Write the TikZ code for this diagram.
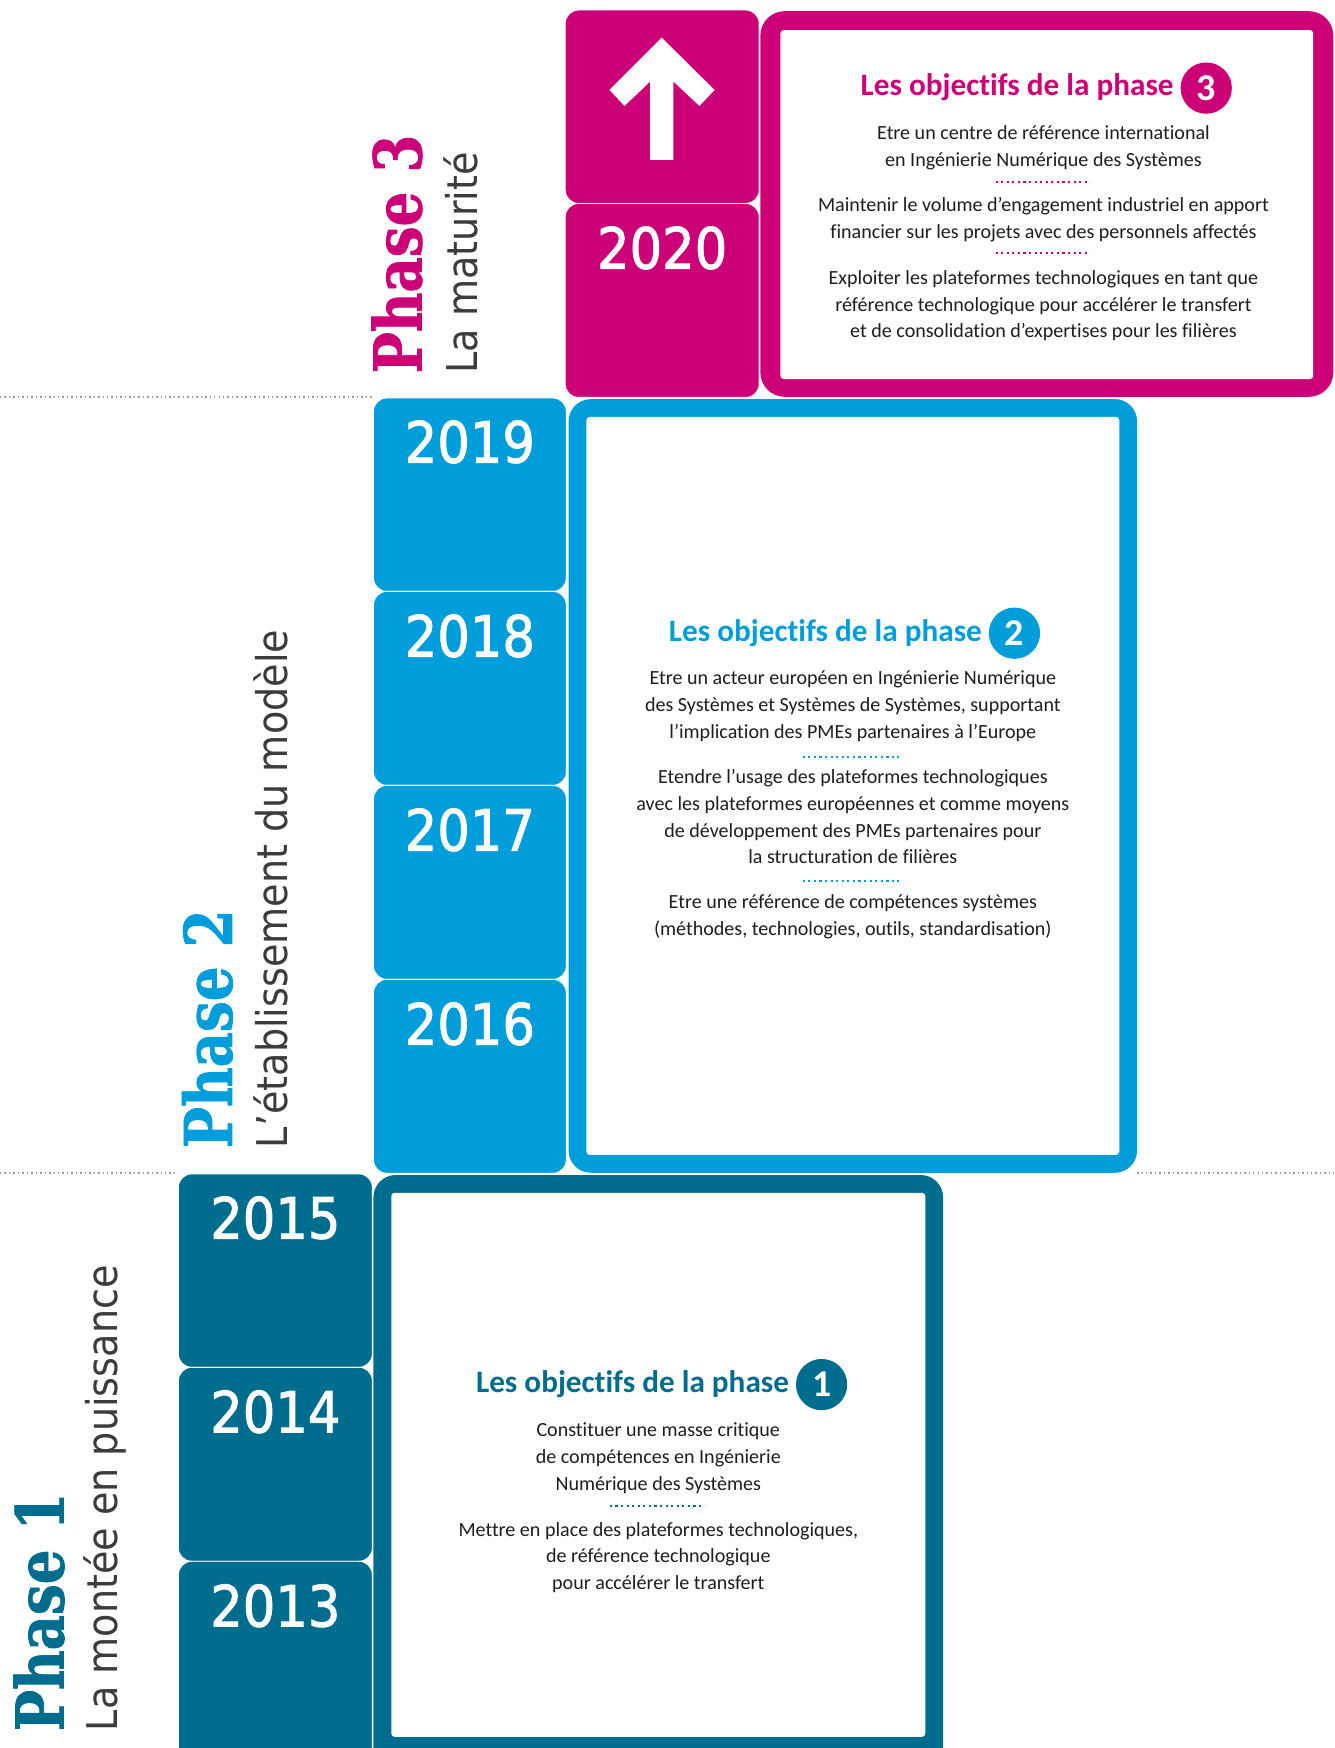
\documentclass[tikz,border=0pt]{standalone}
\usepackage{fontspec}
\setmainfont{Carlito}
\newfontfamily\yearfont[FakeStretch=0.9,FakeBold=1.6]{DejaVu Sans}
\newfontfamily\phasefont[FakeStretch=0.83,FakeBold=1.2]{DejaVu Serif}
\newfontfamily\subfont[FakeStretch=0.9]{DejaVu Sans}
\newfontfamily\bodyfont[Ligatures=NoCommon]{Carlito}
\newcommand{\objtxt}{Les object\kern0pt ifs de la phase}
\definecolor{pmag}{HTML}{CC0077}
\definecolor{pblue}{HTML}{009DDB}
\definecolor{pteal}{HTML}{006C8E}
\definecolor{subgray}{HTML}{3C3C3C}
\definecolor{dotgray}{HTML}{9A9A9A}
\definecolor{bodyblack}{HTML}{1E1E1E}
\tikzset{
  yearbox/.style={draw=white, line width=0.8pt, rounded corners=12pt},
  yeartxt/.style={font=\yearfont\fontsize{51}{51}\selectfont, text=white, anchor=base, inner sep=0pt},
  phasetitle/.style={font=\phasefont\bfseries\fontsize{59}{59}\selectfont, rotate=90, anchor=base west, inner sep=0pt},
  phasesub/.style={font=\subfont\fontsize{38}{38}\selectfont, text=subgray, rotate=90, anchor=base west, inner sep=0pt},
  objtitle/.style={font=\bodyfont\bfseries\fontsize{28}{28}\selectfont, anchor=base east, inner sep=0pt},
  numcircle/.style={circle, minimum size=46pt, inner sep=0pt, text=white, font=\bodyfont\bfseries\fontsize{34}{34}\selectfont},
  bodyline/.style={font=\bodyfont\fontsize{18}{18}\selectfont, text=bodyblack, anchor=base, inner sep=0pt},
  sepdots/.style={line width=2pt, dash pattern=on 2pt off 3pt},
  graydots/.style={draw=dotgray, line width=1.3pt, dash pattern=on 1.3pt off 2.7pt},
}
\begin{document}
\begin{tikzpicture}[x=1pt,y=-1pt]
\useasboundingbox (0,0) rectangle (1196.63,1568);
\clip (0,0) rectangle (1196.63,1568);

% dotted separators
\draw[graydots] (0,356) -- (335,356);
\draw[graydots] (0,1052) -- (160,1052);
\draw[graydots] (1020,1052) -- (1196.63,1052);

% ---------------- Phase 3 ----------------
\path[yearbox, fill=pmag] (507,9) rectangle (681,182.5);
\path[yearbox, fill=pmag] (507,182.5) rectangle (681,356.5);
\fill[white] (593.6,33.8) -- (641,80.7) -- (627.4,95) -- (604.1,73.2) -- (604.1,143.4)
  -- (583.2,143.4) -- (583.2,73.2) -- (560.2,95) -- (546.7,80.7) -- cycle;
\node[yeartxt] (y2020) at (594,241) {2020};
\fill[pmag, rounded corners=22pt] (682,10) rectangle (1196,356);
\fill[white, rounded corners=3pt] (700,27) rectangle (1178,340);
\node[objtitle, text=pmag] (t3) at (1053,86) {\objtxt};
\node[numcircle, fill=pmag] (c3) at (1082,79) {3};
\node[bodyline] (p3a) at (936,125) {Etre un centre de référence international};
\node[bodyline] (p3b) at (936,149) {en Ingénierie Numérique des Systèmes};
\draw[sepdots, pmag] (893,163) -- (978,163);
\node[bodyline] (p3c) at (936,190) {Maintenir le volume d’engagement industriel en apport};
\node[bodyline] (p3d) at (936,214) {financier sur les projets avec des personnels affectés};
\draw[sepdots, pmag] (893,227) -- (978,227);
\node[bodyline] (p3e) at (936,255) {Exploiter les plateformes technologiques en tant que};
\node[bodyline] (p3f) at (936,279) {référence technologique pour accélérer le transfert};
\node[bodyline] (p3g) at (936,303) {et de consolidation d’expertises pour les filières};
\node[phasetitle, text=pmag] (ph3) at (378,335) {Phase 3};
\node[phasesub] (ph3s) at (428,335) {La maturité};

% ---------------- Phase 2 ----------------
\path[yearbox, fill=pblue] (335,357) rectangle (508,530.5);
\path[yearbox, fill=pblue] (335,530.5) rectangle (508,704.5);
\path[yearbox, fill=pblue] (335,704.5) rectangle (508,878.5);
\path[yearbox, fill=pblue] (335,878.5) rectangle (508,1052.5);
\node[yeartxt] (y2019) at (421.5,415) {2019};
\node[yeartxt] (y2018) at (421.5,589) {2018};
\node[yeartxt] (y2017) at (421.5,763) {2017};
\node[yeartxt] (y2016) at (421.5,937) {2016};
\fill[pblue, rounded corners=20pt] (510,358) rectangle (1020,1052);
\fill[white, rounded corners=3pt] (526,374) rectangle (1004,1036);
\node[objtitle, text=pblue] (t2) at (881,575) {\objtxt};
\node[numcircle, fill=pblue] (c2) at (910,568) {2};
\node[bodyline] (p2a) at (765,614) {Etre un acteur européen en Ingénierie Numérique};
\node[bodyline] (p2b) at (765,638) {des Systèmes et Systèmes de Systèmes, supportant};
\node[bodyline] (p2c) at (765,662) {l’implication des PMEs partenaires à l’Europe};
\draw[sepdots, pblue] (720,679) -- (806,679);
\node[bodyline] (p2d) at (765,703) {Etendre l’usage des plateformes technologiques};
\node[bodyline] (p2e) at (765,727) {avec les plateformes européennes et comme moyens};
\node[bodyline] (p2f) at (765,751) {de développement des PMEs partenaires pour};
\node[bodyline] (p2g) at (765,775) {la structuration de filières};
\draw[sepdots, pblue] (720,790) -- (806,790);
\node[bodyline] (p2h) at (765,815) {Etre une référence de compétences systèmes};
\node[bodyline] (p2i) at (765,839) {(méthodes, technologies, outils, standardisation)};
\node[phasetitle, text=pblue] (ph2) at (208,1030) {Phase 2};
\node[phasesub] (ph2s) at (258,1030) {L’établissement du modèle};

% ---------------- Phase 1 ----------------
\path[yearbox, fill=pteal] (160,1053) rectangle (334,1226.5);
\path[yearbox, fill=pteal] (160,1226.5) rectangle (334,1400.5);
\path[yearbox, fill=pteal] (160,1400.5) rectangle (334,1600);
\node[yeartxt] (y2015) at (247,1111) {2015};
\node[yeartxt] (y2014) at (247,1285) {2014};
\node[yeartxt] (y2013) at (247,1459) {2013};
\fill[pteal, rounded corners=20pt] (335,1054) rectangle (846,1600);
\fill[white, rounded corners=3pt] (351,1070) rectangle (830,1558);
\node[objtitle, text=pteal] (t1) at (708,1249) {\objtxt};
\node[numcircle, fill=pteal] (c1) at (737,1242) {1};
\node[bodyline] (p1a) at (590.5,1289) {Constituer une masse critique};
\node[bodyline] (p1b) at (590.5,1313) {de compétences en Ingénierie};
\node[bodyline] (p1c) at (590.5,1337) {Numérique des Systèmes};
\draw[sepdots, pteal] (547,1351) -- (632,1351);
\node[bodyline] (p1d) at (590.5,1378) {Mettre en place des plateformes technologiques,};
\node[bodyline] (p1e) at (590.5,1402) {de référence technologique};
\node[bodyline] (p1f) at (590.5,1426) {pour accélérer le transfert};
\node[phasetitle, text=pteal] (ph1) at (57,1553) {Phase 1};
\node[phasesub] (ph1s) at (105,1553) {La montée en puissance};
\end{tikzpicture}
\end{document}
